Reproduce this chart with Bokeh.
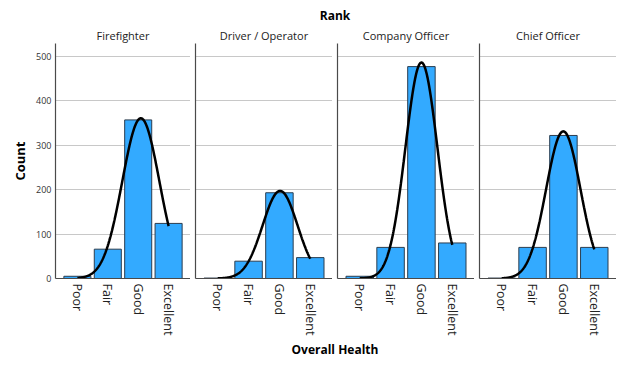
import math
import numpy as np
from bokeh.plotting import figure
from bokeh.layouts import row, column
from bokeh.models import Range1d, FixedTicker, Div
from bokeh.embed import file_html
from bokeh.resources import INLINE

# ---- data ----
health = ["Poor", "Fair", "Good", "Excellent"]
health_codes = [1, 2, 3, 4]
ranks = ["Firefighter", "Driver / Operator", "Company Officer", "Chief Officer"]
firefighter = [5, 66, 357, 124]
driver_operator = [1, 39, 193, 47]
company_officer = [5, 70, 477, 80]
chief_officer = [1, 70, 322, 70]
counts = [firefighter, driver_operator, company_officer, chief_officer]
y_ticks = [0, 100, 200, 300, 400, 500]

FONT = "Open Sans"
BAR_FILL = "#33AAFF"
BAR_LINE = "#2B3D4F"
AXIS_COL = "#4a4a4a"
GRID_COL = "#c8c8c8"

y_range = Range1d(0, 529)
frame_w, frame_h = 137, 235
top_b, bot_b = 19, 60

figs = []
for i, (name, n) in enumerate(zip(ranks, counts)):
    left_b = 45 if i == 0 else 5
    p = figure(width=left_b + frame_w, height=top_b + frame_h + bot_b,
               x_range=Range1d(0.28, 4.72), y_range=y_range,
               output_backend="svg", toolbar_location=None,
               min_border_left=left_b, min_border_right=0,
               min_border_top=top_b, min_border_bottom=bot_b,
               title=name)
    p.title.align = "center"
    p.title.text_font = FONT
    p.title.text_font_size = "11px"
    p.title.text_font_style = "normal"
    p.title.text_color = "#222222"
    p.title.standoff = 1
    p.outline_line_color = None
    p.background_fill_color = "white"
    p.border_fill_color = "white"

    x = np.array(health_codes, dtype=float)
    y = np.array(n, dtype=float)
    p.vbar(x=x, top=y, bottom=0, width=0.89, fill_color=BAR_FILL,
           line_color=BAR_LINE, line_width=1)

    # normal curve fitted to the counts
    N = y.sum()
    mu = (x * y).sum() / N
    sd = math.sqrt((x * x * y).sum() / N - mu * mu)
    xs = np.linspace(health_codes[0], health_codes[-1], 300)
    ys = N / (sd * math.sqrt(2 * math.pi)) * np.exp(-0.5 * ((xs - mu) / sd) ** 2)
    p.line(xs, ys, line_color="black", line_width=2.5)

    p.xgrid.grid_line_color = None
    p.ygrid.grid_line_color = GRID_COL
    p.ygrid.ticker = FixedTicker(ticks=y_ticks[1:])

    xa = p.xaxis[0]
    xa.ticker = FixedTicker(ticks=health_codes)
    xa.major_label_overrides = {c: h for c, h in zip(health_codes, health)}
    xa.major_label_orientation = -math.pi / 2
    xa.major_label_text_font = FONT
    xa.major_label_text_font_size = "12.5px"
    xa.major_label_text_color = "#222222"
    xa.major_label_standoff = 5
    xa.major_tick_out = 0
    xa.major_tick_in = 0
    xa.minor_tick_out = 0
    xa.minor_tick_in = 0
    xa.axis_line_color = AXIS_COL
    xa.axis_line_width = 1.2

    ya = p.yaxis[0]
    ya.axis_line_color = AXIS_COL
    ya.axis_line_width = 1.2
    ya.major_tick_out = 0
    ya.major_tick_in = 0
    ya.minor_tick_out = 0
    ya.minor_tick_in = 0
    if i == 0:
        ya.ticker = FixedTicker(ticks=y_ticks)
        ya.major_label_text_font = FONT
        ya.major_label_text_font_size = "9px"
        ya.major_label_text_color = "#333333"
        ya.major_label_standoff = 4
        ya.axis_label = "Count"
        ya.axis_label_text_font = FONT
        ya.axis_label_text_font_size = "13px"
        ya.axis_label_text_font_style = "bold"
        ya.axis_label_text_color = "black"
        ya.axis_label_standoff = 4
    else:
        ya.ticker = FixedTicker(ticks=[])
        ya.major_label_standoff = 0
    figs.append(p)

title_div = Div(text=f"<div style=\"width:564px;text-align:center;font-family:'{FONT}';"
                     "font-weight:bold;font-size:12px;padding-top:8px;line-height:16px;color:black\">Rank</div>",
                width=564, height=24, margin=(0, 0, 0, 53))
xlabel_div = Div(text=f"<div style=\"width:564px;text-align:center;font-family:'{FONT}';"
                      "font-weight:bold;font-size:12px;line-height:24px;color:black\">Overall Health</div>",
                 width=564, height=24, margin=(0, 0, 0, 53))

layout = column(title_div, row(*figs, spacing=0, margin=(0, 0, 0, 8)), xlabel_div, spacing=0)

with open("out.html", "w") as f:
    f.write(file_html(layout, INLINE))
